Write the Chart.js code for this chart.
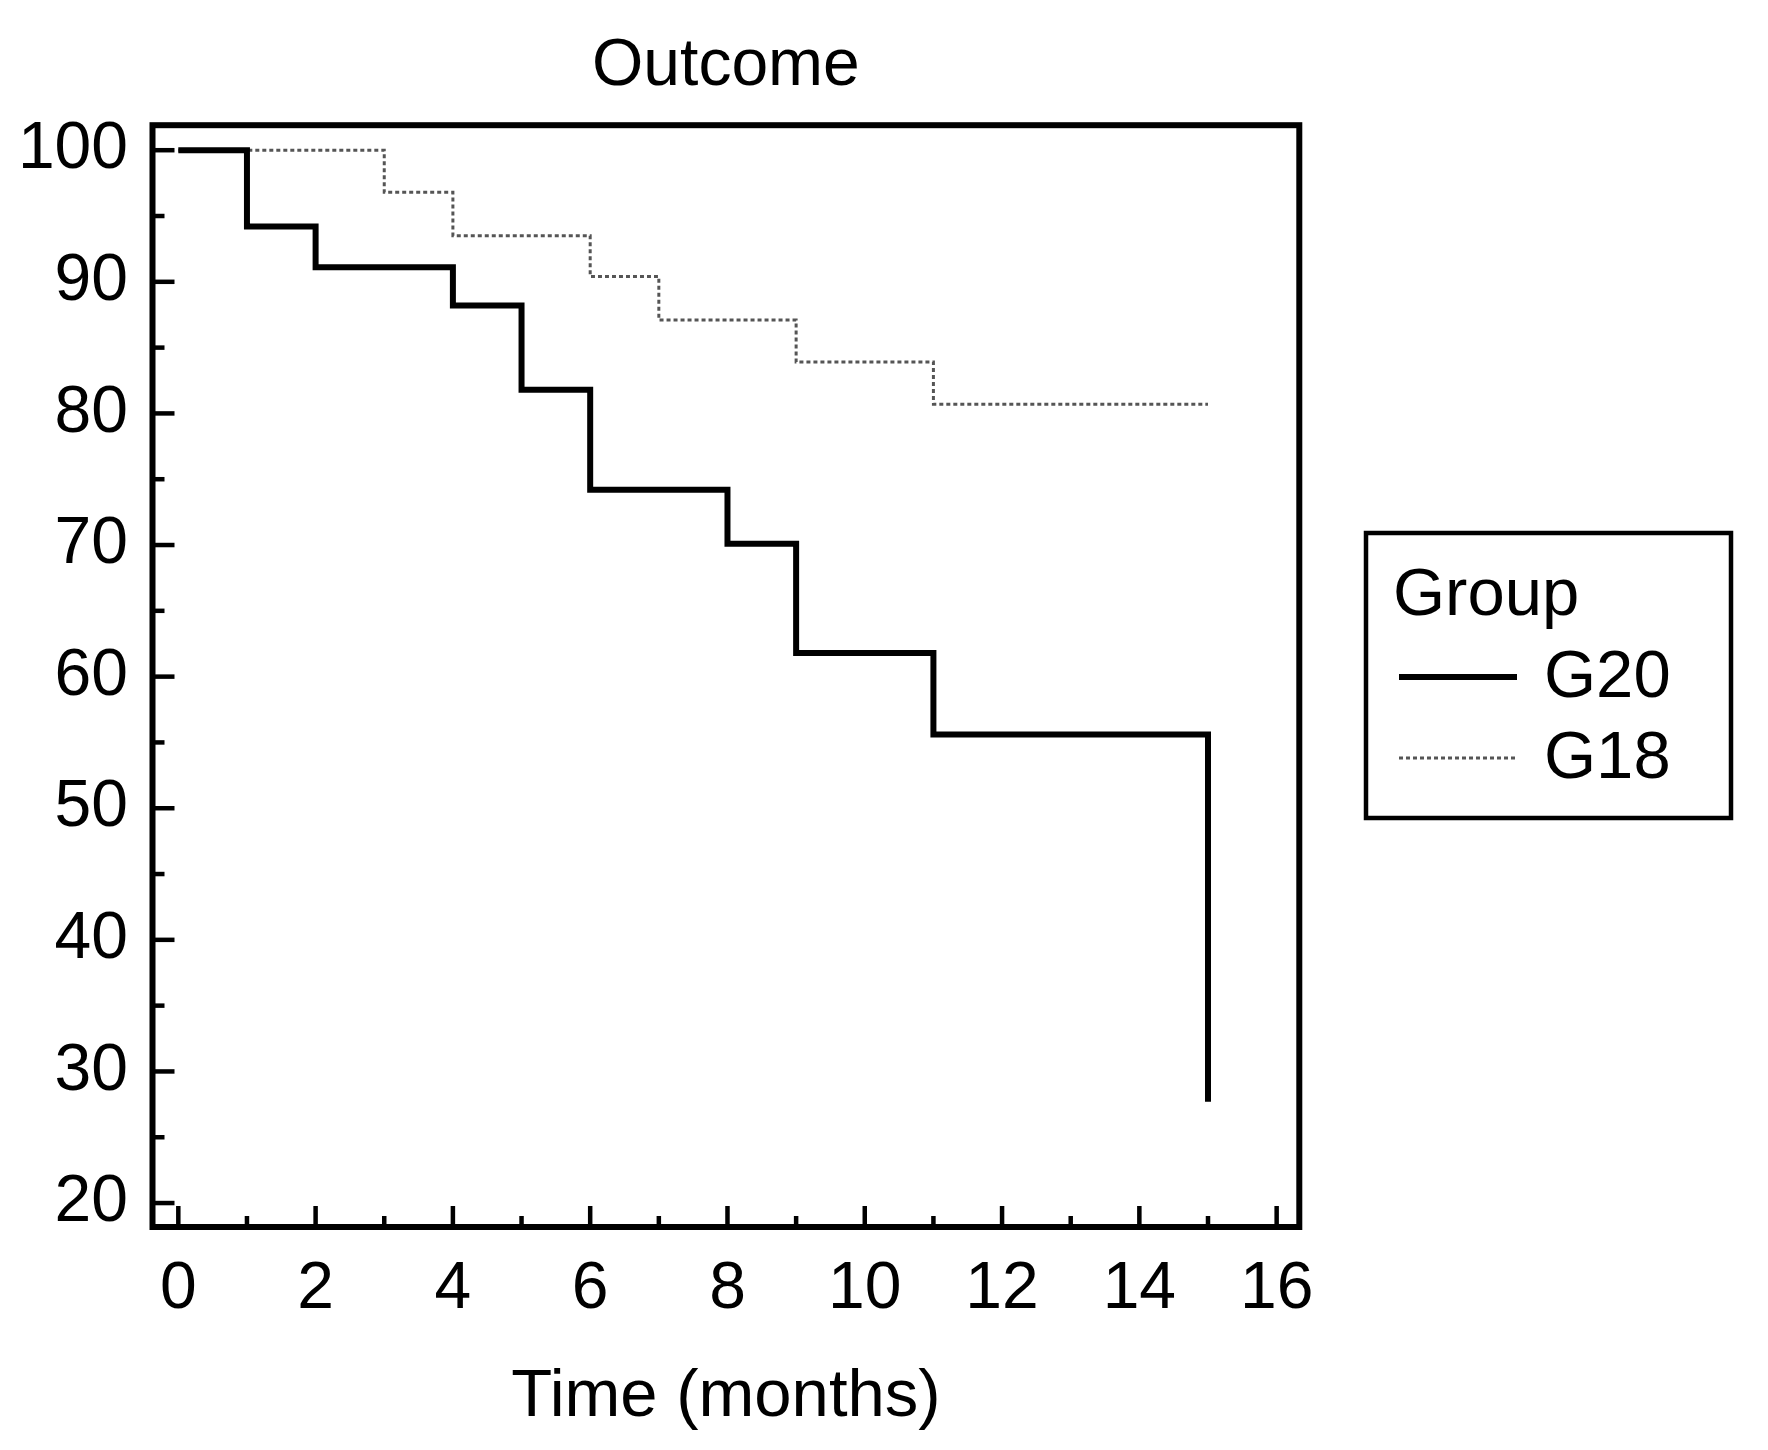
<!DOCTYPE html>
<html><head><meta charset="utf-8">
<script src="https://cdn.jsdelivr.net/npm/chart.js@4"></script>
<style>html,body{margin:0;padding:0;background:#fff}#wrap{width:1768px;height:1450px;position:relative}</style>
</head><body><div id="wrap"><canvas id="c"></canvas></div>
<script>
const chartTitle = 'Outcome';
const xAxisTitle = 'Time (months)';
const legendTitle = 'Group';
const seriesNames = ['G20', 'G18'];
const g20Times = [0, 1, 2, 4, 5, 6, 8, 9, 11, 15];
const g20Survival = [100, 94.2, 91.1, 88.2, 81.8, 74.2, 70.1, 61.8, 55.6, 27.7];
const g18Times = [0, 3, 4, 6, 7, 9, 11, 15];
const g18Survival = [100, 96.8, 93.5, 90.4, 87.1, 83.9, 80.7, 80.7];
const xTicks = [0, 2, 4, 6, 8, 10, 12, 14, 16];
const xMinorTicks = [1, 3, 5, 7, 9, 11, 13, 15];
const yTicks = [20, 30, 40, 50, 60, 70, 80, 90, 100];
const yMinorTicks = [25, 35, 45, 55, 65, 75, 85, 95];

const FONT = "'Liberation Sans', Arial, Helvetica, sans-serif";
const toPts = (xs, ys) => xs.map((t, i) => ({x: t, y: ys[i]}));

const framePlugin = {
  id: 'frame',
  afterDatasetsDraw(chart) {
    const {ctx, chartArea: a, scales: {x, y}} = chart;
    ctx.save();
    ctx.strokeStyle = '#000';
    ctx.lineCap = 'butt';
    ctx.lineWidth = 4.5;
    const seg = (x1, y1, x2, y2) => { ctx.beginPath(); ctx.moveTo(x1, y1); ctx.lineTo(x2, y2); ctx.stroke(); };
    xTicks.forEach(v => { const p = x.getPixelForValue(v); seg(p, a.bottom, p, a.bottom - 21); });
    xMinorTicks.forEach(v => { const p = x.getPixelForValue(v); seg(p, a.bottom, p, a.bottom - 11); });
    yTicks.forEach(v => { const p = y.getPixelForValue(v); seg(a.left, p, a.left + 22, p); });
    yMinorTicks.forEach(v => { const p = y.getPixelForValue(v); seg(a.left, p, a.left + 12, p); });
    ctx.lineWidth = 6;
    ctx.lineJoin = 'miter';
    ctx.strokeRect(a.left, a.top, a.width, a.height);
    ctx.restore();
  }
};

const legendPlugin = {
  id: 'boxLegend',
  afterDraw(chart) {
    const {ctx} = chart;
    ctx.save();
    ctx.strokeStyle = '#000';
    ctx.lineWidth = 4.5;
    ctx.strokeRect(1366, 533, 365, 285);
    ctx.fillStyle = '#000';
    ctx.font = '67px ' + FONT;
    ctx.textAlign = 'left';
    ctx.textBaseline = 'alphabetic';
    ctx.fillText(legendTitle, 1393, 615);
    const lineYs = [677, 758];
    const textYs = [697, 778];
    chart.data.datasets.forEach((ds, i) => {
      ctx.save();
      ctx.strokeStyle = ds.borderColor;
      ctx.lineWidth = ds.borderWidth;
      ctx.setLineDash(ds.borderDash || []);
      ctx.beginPath();
      ctx.moveTo(1399, lineYs[i]);
      ctx.lineTo(1517, lineYs[i]);
      ctx.stroke();
      ctx.restore();
      ctx.fillText(ds.label, 1544, textYs[i]);
    });
    ctx.restore();
  }
};

new Chart(document.getElementById('c'), {
  type: 'line',
  data: {
    datasets: [
      {label: seriesNames[0], data: toPts(g20Times, g20Survival), borderColor: '#000', borderWidth: 6,
       stepped: true, pointRadius: 0, fill: false, borderJoinStyle: 'miter', borderCapStyle: 'butt'},
      {label: seriesNames[1], data: toPts(g18Times, g18Survival), borderColor: '#555', borderWidth: 3,
       borderDash: [4, 3], stepped: true, pointRadius: 0, fill: false, borderJoinStyle: 'miter', borderCapStyle: 'butt'}
    ]
  },
  options: {
    responsive: true,
    maintainAspectRatio: false,
    devicePixelRatio: 1,
    animation: false,
    events: [],
    layout: {padding: {left: 0, right: 468.7, top: 0, bottom: 0}},
    plugins: {
      legend: {display: false},
      tooltip: {enabled: false},
      title: {display: true, text: chartTitle, fullSize: false, color: '#000',
              font: {family: FONT, size: 66, weight: 'normal', lineHeight: 1.2},
              padding: {top: 27, bottom: 19}}
    },
    scales: {
      x: {
        type: 'linear', min: -0.376, max: 16.33,
        afterBuildTicks: s => { s.ticks = xTicks.map(v => ({value: v})); },
        afterFit: s => { s.height = 223; },
        grid: {display: false, drawTicks: false},
        border: {display: false},
        ticks: {color: '#000', padding: 23, maxRotation: 0, autoSkip: false,
                font: {family: FONT, size: 66, lineHeight: 1.2}},
        title: {display: true, text: xAxisTitle, color: '#000',
                font: {family: FONT, size: 67, lineHeight: 1.2}, padding: {top: 0, bottom: 12}}
      },
      y: {
        type: 'linear', min: 18.18, max: 101.9,
        afterBuildTicks: s => { s.ticks = yTicks.map(v => ({value: v})); },
        afterFit: s => { s.width = 152.5; },
        grid: {display: false, drawTicks: false},
        border: {display: false},
        ticks: {color: '#000', padding: 24.5, autoSkip: false,
                font: {family: FONT, size: 66, lineHeight: 1.2}}
      }
    }
  },
  plugins: [framePlugin, legendPlugin]
});
</script></body></html>
